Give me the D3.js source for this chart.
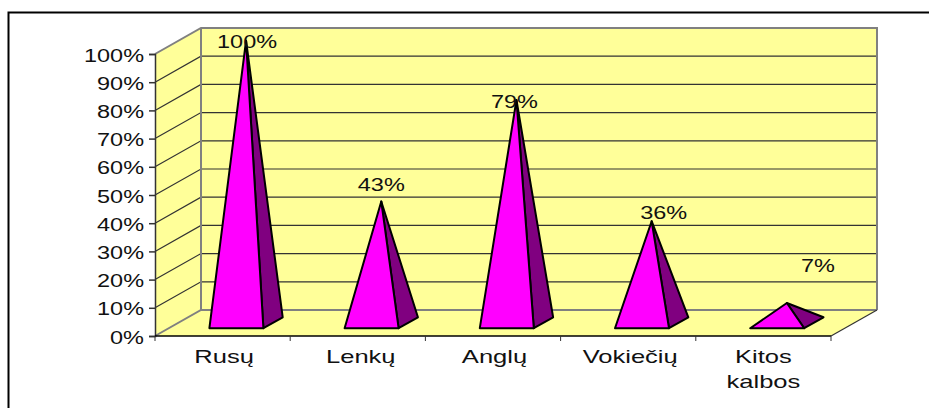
<!DOCTYPE html>
<html><head><meta charset="utf-8">
<script src="https://cdn.jsdelivr.net/npm/d3@7/dist/d3.min.js"></script>
<style>html,body{margin:0;padding:0;background:#fff}svg{display:block}text{font-family:"Liberation Sans",Arial,sans-serif;fill:#111}</style>
</head><body><svg id="c" width="929" height="408"></svg>
<script>
const categories = [["Rusų"],["Lenkų"],["Anglų"],["Vokiečių"],["Kitos","kalbos"]];
const values = [100,43,79,36,7];
const valueLabels = ["100%","43%","79%","36%","7%"];
const yTicks = [0,10,20,30,40,50,60,70,80,90,100];

const svg = d3.select("#c");
const W=929,H=408;
svg.append("polyline").attr("points",`8.5,${H} 8.5,12.5 ${W},12.5`).attr("fill","none").attr("stroke","#000").attr("stroke-width",2);

const x = d3.scaleBand().domain(d3.range(categories.length)).range([155,831]);
const y = d3.scaleLinear().domain([0,100]).range([336,54]);
const depthX = d3.scaleLinear().domain([0,1]).range([0,46]);
const depthY = d3.scaleLinear().domain([0,1]).range([0,-26]);
const px = (xv,d)=>xv+depthX(d), py=(v,d)=>y(v)+depthY(d);
const pts = a=>a.map(p=>p.join(",")).join(" ");
const L=x.range()[0], R=x.range()[1];
const FS="18.5px", SX=1.27, SXC=1.38;

// walls
svg.append("polygon").attr("points",pts([[px(L,0),py(0,0)],[px(L,1),py(0,1)],[px(L,1),py(100,1)],[px(L,0),py(100,0)]])).attr("fill","#FFFF99");
svg.append("polygon").attr("points",pts([[px(L,1),py(0,1)],[px(R,1),py(0,1)],[px(R,1),py(100,1)],[px(L,1),py(100,1)]])).attr("fill","#FFFF99");
svg.append("polygon").attr("points",pts([[px(L,0),py(0,0)],[px(R,0),py(0,0)],[px(R,1),py(0,1)],[px(L,1),py(0,1)]])).attr("fill","#FFFF99");

// gridlines
const grid = svg.append("g").attr("fill","none").attr("stroke","#333").attr("stroke-width",1.2);
yTicks.filter(t=>t>0&&t<100).forEach(t=>{
  grid.append("polyline").attr("points",pts([[px(L,0),py(t,0)],[px(L,1),py(t,1)],[px(R,1),py(t,1)]]));
});
// wall edges
const edge = svg.append("g").attr("fill","none").attr("stroke","#808080").attr("stroke-width",2);
edge.append("polyline").attr("points",pts([[px(L,0),py(100,0)],[px(L,1),py(100,1)],[px(R,1),py(100,1)],[px(R,1),py(0,1)]]));
edge.append("polyline").attr("points",pts([[px(L,0),py(0,0)],[px(L,1),py(0,1)],[px(R,1),py(0,1)]]));
edge.append("line").attr("x1",px(L,1)).attr("x2",px(L,1)).attr("y1",py(0,1)).attr("y2",py(100,1));
svg.append("line").attr("x1",px(R,0)).attr("y1",py(0,0)).attr("x2",px(R,1)).attr("y2",py(0,1)).attr("stroke","#333").attr("stroke-width",1.2);

// axes
const yAxis = d3.axisLeft(y).tickValues(yTicks).tickSize(6).tickFormat(d=>d+"%");
const gy = svg.append("g").attr("transform",`translate(${L},0)`).call(yAxis);
gy.selectAll("text").attr("x",0).attr("dy",null).attr("y",7).attr("transform",`translate(-11,0) scale(${SX},1)`).style("font-size",FS).style("font-family",'"Liberation Sans"');
gy.selectAll("line,path").attr("stroke","#333").attr("stroke-width",1.5);
const gx = svg.append("g");
gx.append("line").attr("x1",L).attr("x2",R).attr("y1",y(0)).attr("y2",y(0)).attr("stroke","#000").attr("stroke-width",1.5);
d3.range(categories.length+1).forEach(i=>{
  const xp=L+i*x.step();
  gx.append("line").attr("x1",xp).attr("x2",xp).attr("y1",y(0)).attr("y2",y(0)+5).attr("stroke","#333");
});
const catDx=[1.5,3,1.5,2,0];
categories.forEach((lines,i)=>{
  lines.forEach((s,j)=>{
    gx.append("text").attr("transform",`translate(${x(i)+x.bandwidth()/2+catDx[i]},${y(0)+27+j*25}) scale(${SXC},1)`).attr("text-anchor","middle").style("font-size",FS).text(s);
  });
});

// pyramids
const fFront=0.3, fBack=0.72, half=27, fMid=(fFront+fBack)/2;
const labelDx=[1,0,-2,12,31], labelDy=[7.6,-10.8,7.7,-2.3,-31];
values.forEach((v,i)=>{
  const c=x(i)+x.bandwidth()/2;
  const fl=[px(c-half,fFront),py(0,fFront)], fr=[px(c+half,fFront),py(0,fFront)], br=[px(c+half,fBack),py(0,fBack)];
  const apex=[px(c,fMid),py(v,fMid)];
  svg.append("polygon").attr("points",pts([fr,br,apex])).attr("fill","#800080").attr("stroke","#000").attr("stroke-width",2).attr("stroke-linejoin","round");
  svg.append("polygon").attr("points",pts([fl,fr,apex])).attr("fill","#FF00FF").attr("stroke","#000").attr("stroke-width",2).attr("stroke-linejoin","round");
  svg.append("text").attr("transform",`translate(${apex[0]+labelDx[i]},${apex[1]+labelDy[i]}) scale(${SX},1)`).attr("text-anchor","middle").style("font-size",FS).text(valueLabels[i]);
});
</script></body></html>
